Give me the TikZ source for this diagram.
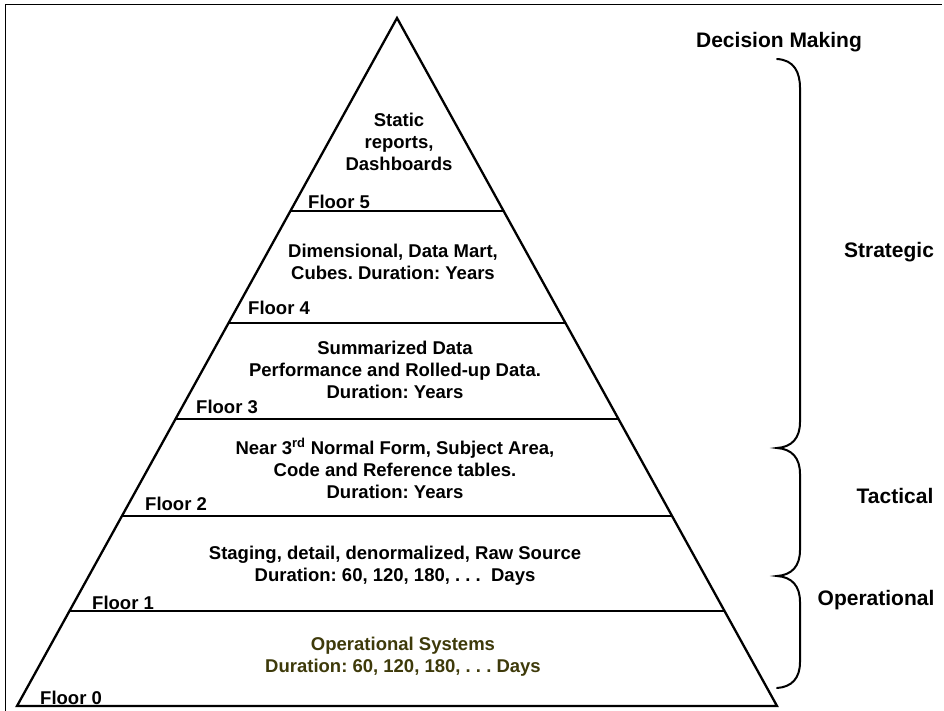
\documentclass[tikz,border=0pt]{standalone}
\usepackage{fontspec}
\setmainfont{Liberation Sans}
\definecolor{opcol}{RGB}{62,58,10}
\frenchspacing
\begin{document}
\begin{tikzpicture}[x=1pt,y=-1pt,
  pyr/.style={line width=2.3pt, line join=miter},
  floorline/.style={line width=2.3pt},
  content/.style={font=\fontsize{18.5}{22}\selectfont\bfseries, align=center, inner sep=0pt},
  floorlbl/.style={font=\fontsize{18.5}{22}\selectfont\bfseries, anchor=west, inner sep=0pt},
  sidelbl/.style={font=\fontsize{21}{24}\selectfont\bfseries, inner sep=0pt},
  bracel/.style={line width=2pt, line cap=round},
  frame/.style={line width=1pt}
]
\useasboundingbox (0,0) rectangle (944,711);
% frame
\draw[frame] (5,711) -- (5,5) -- (942,5);
% pyramid
\coordinate (A) at (397,18);
\coordinate (BL) at (17,706);
\coordinate (BR) at (777,706);
\draw[pyr] (BL) -- (A) -- (BR) -- cycle;
% floor lines
\coordinate (f5l) at (290.4,211); \coordinate (f5r) at (503.6,211);
\coordinate (f4l) at (228.5,323); \coordinate (f4r) at (565.5,323);
\coordinate (f3l) at (175.5,419); \coordinate (f3r) at (618.5,419);
\coordinate (f2l) at (122,516);   \coordinate (f2r) at (672,516);
\coordinate (f1l) at (69.5,611);  \coordinate (f1r) at (724.5,611);
\draw[floorline] (f5l) -- (f5r);
\draw[floorline] (f4l) -- (f4r);
\draw[floorline] (f3l) -- (f3r);
\draw[floorline] (f2l) -- (f2r);
\draw[floorline] (f1l) -- (f1r);
% floor labels
\node[floorlbl] (l5) at (308,202) {Floor 5};
\node[floorlbl] (l4) at (248,308) {Floor 4};
\node[floorlbl] (l3) at (196,407) {Floor 3};
\node[floorlbl] (l2) at (145,504) {Floor 2};
\node[floorlbl] (l1) at (92,603) {Floor 1};
\node[floorlbl] (l0) at (40,698) {Floor 0};
% contents
\node[content] (c5) at (399,141.5) {Static\\reports,\\Dashboards};
\node[content] (c4) at (393,261.5) {Dimensional, Data Mart,\\Cubes. Duration: Years};
\node[content] (c3) at (395,369.5) {Summarized Data\\Performance and Rolled-up Data.\\Duration: Years};
\node[content] (c2) at (395,468.5) {Near 3\textsuperscript{rd} Normal Form, Subject Area,\\Code and Reference tables.\\Duration: Years};
\node[content] (c1) at (395,565.5) {Staging, detail, denormalized, Raw Source\\Duration: 60, 120, 180, . . .\ \ Days};
\node[content, text=opcol] (c0) at (403,656.5) {Operational Systems\\Duration: 60, 120, 180, . . . Days};
% right side
\node[sidelbl] (dm) at (779,42) {Decision Making};
\node[sidelbl] (st) at (889,252) {Strategic};
\node[sidelbl] (ta) at (895,496) {Tactical};
\node[sidelbl] (op) at (876,600) {Operational};
\coordinate (b0) at (777,59);
\coordinate (b1) at (777,448);
\coordinate (b2) at (777,576);
\coordinate (b3) at (777,688);
\draw[bracel] (b0) .. controls (794,60) and (800,72) .. (800,88) -- (800,422)
  .. controls (800,438) and (792,447) .. (b1)
  .. controls (792,449) and (800,458) .. (800,474) -- (800,550)
  .. controls (800,566) and (792,575) .. (b2)
  .. controls (792,577) and (800,586) .. (800,602) -- (800,662)
  .. controls (800,678) and (792,687) .. (b3);
\end{tikzpicture}
\end{document}
